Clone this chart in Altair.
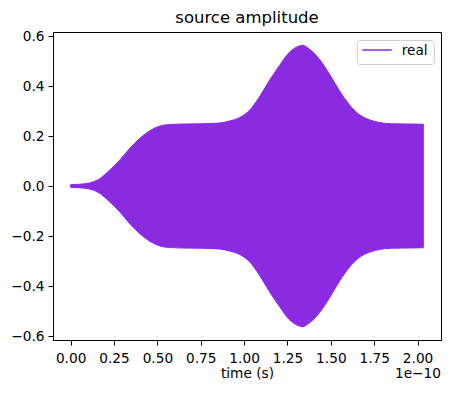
import altair as alt
import pandas as pd

# time in units of 1e-10 s
t = [0.0, 0.05, 0.108, 0.165, 0.223, 0.281, 0.338, 0.396, 0.454, 0.511, 0.569,
     0.65, 0.75, 0.858, 0.915, 0.972, 1.03, 1.088, 1.145, 1.203, 1.26, 1.318,
     1.335, 1.376, 1.433, 1.491, 1.549, 1.606, 1.664, 1.722, 1.779, 1.85, 1.95, 2.033]
upper = [0.005, 0.007, 0.012, 0.028, 0.062, 0.102, 0.148, 0.189, 0.220, 0.239, 0.246,
         0.248, 0.249, 0.252, 0.260, 0.273, 0.302, 0.356, 0.421, 0.481, 0.534, 0.560,
         0.563, 0.548, 0.508, 0.449, 0.382, 0.326, 0.286, 0.265, 0.254, 0.249, 0.248, 0.247]
lower = [-0.005, -0.007, -0.012, -0.028, -0.062, -0.102, -0.148, -0.189, -0.220, -0.239, -0.246,
         -0.248, -0.249, -0.252, -0.260, -0.273, -0.302, -0.356, -0.421, -0.481, -0.534, -0.560,
         -0.563, -0.548, -0.508, -0.449, -0.382, -0.326, -0.286, -0.265, -0.254, -0.249, -0.248, -0.247]

x_ticks = [0.0, 0.25, 0.5, 0.75, 1.0, 1.25, 1.5, 1.75, 2.0]
y_ticks = [-0.6, -0.4, -0.2, 0.0, 0.2, 0.4, 0.6]
legend_labels = ["real"]

df = pd.DataFrame({"t": t, "upper": upper, "lower": lower})

COLOR = "#8a2be2"
FONT = "DejaVu Sans"
FS = 13.7

xs = alt.Scale(domain=[-0.1016, 2.135], nice=False, zero=False)
ys = alt.Scale(domain=[-0.616, 0.616], nice=False, zero=False)

common = dict(grid=False, labelFontSize=FS, titleFontSize=FS, titleFontWeight="normal",
              labelFont=FONT, titleFont=FONT, labelColor="black", titleColor="black",
              domainColor="black", tickColor="black", tickSize=5, domainWidth=1, tickWidth=1)

xax = alt.Axis(values=x_ticks, format=".2f", title="time (s)",
               labelPadding=6, titlePadding=2, **common)
yax = alt.Axis(values=y_ticks, title=None,
               labelExpr="replace(format(datum.value, '.1f'), '-', '\u2212')",
               labelPadding=4, **common)

area = alt.Chart(df).mark_area(color=COLOR, opacity=1, interpolate="monotone",
                               stroke=COLOR, strokeWidth=1).encode(
    x=alt.X("t:Q", scale=xs, axis=xax),
    y=alt.Y("upper:Q", scale=ys, axis=yax),
    y2="lower:Q",
)

leg_df = pd.DataFrame({"label": legend_labels})
leg_box = alt.Chart(leg_df).mark_rect(fill="white", fillOpacity=0.8, stroke="#cccccc",
                                      strokeWidth=1, cornerRadius=3).encode(
    x=alt.value(304.3), x2=alt.value(381.3), y=alt.value(8.5), y2=alt.value(32.5))
leg_line = alt.Chart(leg_df).mark_rule(color=COLOR, strokeWidth=1.5).encode(
    x=alt.value(309.3), x2=alt.value(338.7), y=alt.value(18))
leg_text = alt.Chart(leg_df).mark_text(align="left", baseline="middle", fontSize=FS,
                                       font=FONT, color="black").encode(
    x=alt.value(348.7), y=alt.value(19), text="label:N")

offset = alt.Chart(pd.DataFrame({"txt": ["1e\u221210"]})).mark_text(
    align="right", baseline="middle", fontSize=FS, font=FONT, color="black"
).encode(x=alt.value(388), y=alt.value(341.5), text="txt:N")

chart = alt.layer(area, leg_box, leg_line, leg_text, offset).properties(
    width=388, height=308,
    background="white",
    title=alt.TitleParams("source amplitude", fontSize=16.5, font=FONT,
                          fontWeight="normal", color="black", offset=3),
    autosize=alt.AutoSizeParams(type="none"),
    padding={"left": 45, "top": 24, "right": 1, "bottom": 45},
).configure_view(stroke="black", strokeWidth=1)

chart.save("out.html", embed_options={"renderer": "svg", "actions": False})
